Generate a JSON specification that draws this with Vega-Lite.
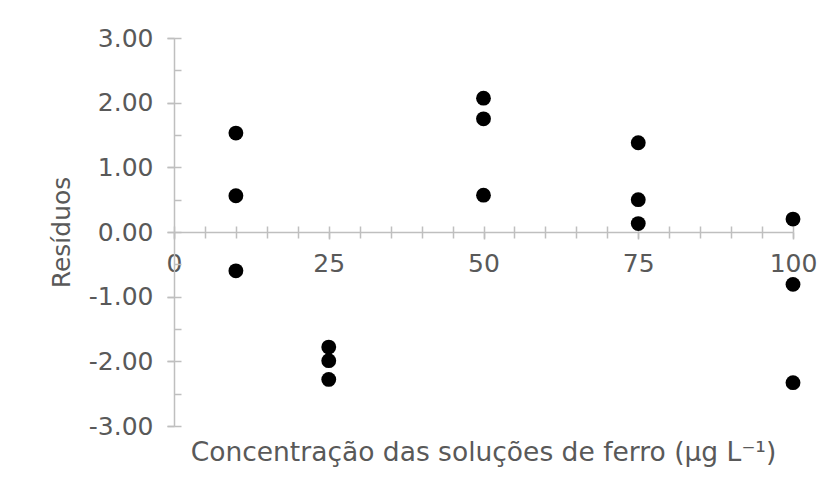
{
  "$schema": "https://vega.github.io/schema/vega-lite/v6.json",
  "width": 619,
  "height": 388,
  "autosize": {"type": "none"},
  "padding": {"left": 174, "top": 38, "right": 34, "bottom": 63},
  "background": "white",
  "config": {
    "view": {"stroke": null},
    "font": "DejaVu Sans",
    "axis": {
      "grid": false,
      "domainColor": "#BFBFBF",
      "domainWidth": 1.5,
      "tickColor": "#BFBFBF",
      "tickWidth": 1.5,
      "labelColor": "#595959",
      "labelFont": "DejaVu Sans",
      "labelFontSize": 25,
      "labelFlush": false,
      "titleColor": "#595959",
      "titleFont": "DejaVu Sans",
      "titleFontSize": 25,
      "titleFontWeight": "normal"
    }
  },
  "title": {
    "text": "Concentração das soluções de ferro (µg L⁻¹)",
    "orient": "bottom",
    "anchor": "middle",
    "font": "DejaVu Sans",
    "fontSize": 26.5,
    "fontWeight": "normal",
    "color": "#595959",
    "offset": 1
  },
  "data": {
    "values": [
      {"concentracao": 10, "residuo": 1.53},
      {"concentracao": 10, "residuo": 0.56},
      {"concentracao": 10, "residuo": -0.60},
      {"concentracao": 25, "residuo": -1.78},
      {"concentracao": 25, "residuo": -1.99},
      {"concentracao": 25, "residuo": -2.28},
      {"concentracao": 50, "residuo": 2.07},
      {"concentracao": 50, "residuo": 1.75},
      {"concentracao": 50, "residuo": 0.57},
      {"concentracao": 75, "residuo": 1.38},
      {"concentracao": 75, "residuo": 0.50},
      {"concentracao": 75, "residuo": 0.13},
      {"concentracao": 100, "residuo": 0.20},
      {"concentracao": 100, "residuo": -0.81},
      {"concentracao": 100, "residuo": -2.33}
    ]
  },
  "resolve": {"axis": {"x": "independent", "y": "independent"}},
  "layer": [
    {
      "mark": {"type": "point", "opacity": 0},
      "encoding": {
        "x": {"field": "concentracao", "type": "quantitative",
          "scale": {"domain": [0, 100], "nice": false},
          "axis": {"orient": "bottom", "offset": -194, "values": [0,5,10,15,20,25,30,35,40,45,50,55,60,65,70,75,80,85,90,95,100], "tickSize": -6, "labels": false, "domain": false, "title": null}},
        "y": {"field": "residuo", "type": "quantitative",
          "scale": {"domain": [-3, 3], "nice": false},
          "axis": {"orient": "left", "values": [-3,-2.5,-2,-1.5,-1,-0.5,0,0.5,1,1.5,2,2.5,3], "tickSize": -7, "labels": false, "domain": false, "title": null}}
      }
    },
    {
      "mark": {"type": "point", "opacity": 0},
      "encoding": {
        "x": {"field": "concentracao", "type": "quantitative",
          "axis": {"orient": "bottom", "offset": -194, "values": [0,5,10,15,20,25,30,35,40,45,50,55,60,65,70,75,80,85,90,95,100], "tickSize": 6, "labels": false, "domain": false, "title": null}},
        "y": {"field": "residuo", "type": "quantitative",
          "axis": {"orient": "left", "values": [-3,-2,-1,0,1,2,3], "tickSize": 7, "labels": false, "domain": false, "title": null}}
      }
    },
    {
      "mark": {"type": "circle", "color": "black", "opacity": 1, "size": 220},
      "encoding": {
        "x": {"field": "concentracao", "type": "quantitative",
          "axis": {"orient": "bottom", "offset": -194, "values": [0, 25, 50, 75, 100], "tickSize": 7, "labelPadding": 12, "labelOverlap": false, "title": null}},
        "y": {"field": "residuo", "type": "quantitative",
          "axis": {"orient": "left", "values": [-3,-2,-1,0,1,2,3], "tickSize": 7, "labelExpr": "replace(format(datum.value, '.2f'), '\u2212', '-')", "labelPadding": 14, "title": "Resíduos", "titlePadding": 14}}
      }
    }
  ]
}
